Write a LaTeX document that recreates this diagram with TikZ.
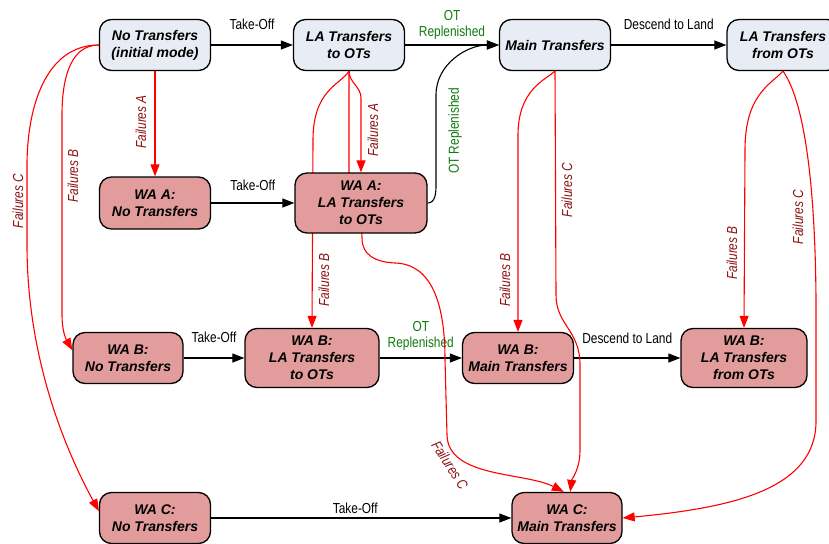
\documentclass[tikz,border=0pt]{standalone}
\usepackage{fontspec}
\setmainfont{Liberation Sans}
\newfontfamily\narrowsans[FakeStretch=0.82]{Liberation Sans}
\usetikzlibrary{arrows.meta,backgrounds}
\definecolor{modefill}{HTML}{E8ECF5}
\definecolor{wafill}{HTML}{E29C9C}
\definecolor{faildark}{HTML}{8B1010}
\definecolor{otgreen}{HTML}{107A10}

\begin{document}
\begin{tikzpicture}[x=1pt,y=1pt,
    mode/.style={draw, line width=1.3pt, rounded corners=12pt, fill=modefill,
      inner sep=0pt, align=center, font=\fontsize{14}{17}\selectfont\bfseries\itshape},
    wa/.style={mode, fill=wafill},
    go/.style={-{Triangle[length=12pt,width=9pt]}, line width=1.1pt},
    fail/.style={go, red},
    lbl/.style={align=center, font=\narrowsans\fontsize{14.5}{16}\selectfont},
    flbl/.style={lbl, text=faildark, font=\narrowsans\itshape\fontsize{14.5}{16}\selectfont}]
  \useasboundingbox (0,0) rectangle (829,-543);

  % normal modes
  \node[mode, minimum width=111, minimum height=51] (nt) at (155,-45) {No Transfers\\(initial mode)};
  \node[mode, minimum width=111, minimum height=51] (lat) at (349,-45) {LA Transfers\\to OTs};
  \node[mode, minimum width=111, minimum height=51] (mt) at (555,-45) {Main Transfers};
  \node[mode, minimum width=112, minimum height=51] (laf) at (783,-45) {LA Transfers\\from OTs};

  % work-around modes
  \node[wa, minimum width=111, minimum height=52] (an) at (155,-203) {WA A:\\No Transfers};
  \node[wa, minimum width=132, minimum height=60] (alat) at (361,-203) {WA A:\\LA Transfers\\to OTs};
  \node[wa, minimum width=110, minimum height=51] (bn) at (128,-358) {WA B:\\No Transfers};
  \node[wa, minimum width=134, minimum height=59] (blat) at (312,-358) {WA B:\\LA Transfers\\to OTs};
  \node[wa, minimum width=111, minimum height=51] (bmt) at (518,-358) {WA B:\\Main Transfers};
  \node[wa, minimum width=126, minimum height=59] (blaf) at (744,-358) {WA B:\\LA Transfers\\from OTs};
  \node[wa, minimum width=111, minimum height=51] (cn) at (155,-518) {WA C:\\No Transfers};
  \node[wa, minimum width=110, minimum height=51] (cmt) at (567,-518) {WA C:\\Main Transfers};

  \begin{scope}[on background layer]
    % mission phases
    \draw[go] (nt) -- node[lbl, yshift=21pt] {Take-Off} (lat);
    \draw[go] (lat) -- node[lbl, text=otgreen, yshift=20pt] {OT\\Replenished} (mt);
    \draw[go] (mt) -- node[lbl, yshift=21pt] {Descend to Land} (laf);
    \draw[go] (an) -- node[lbl, yshift=18pt] {Take-Off} (alat);
    \draw[go] (alat.east) to[out=0,in=-90] (436,-185) -- (436,-95) to[out=90,in=180] (mt.west)
      node[lbl, text=otgreen, rotate=90] at (455,-131) {OT Replenished};
    \draw[go] (bn) -- node[lbl, yshift=21pt] {Take-Off} (blat);
    \draw[go] (blat) -- node[lbl, text=otgreen, yshift=22pt] {OT\\Replenished} (bmt);
    \draw[go] (bmt) -- node[lbl, yshift=20pt] {Descend to Land} (blaf);
    \draw[go] (cn) -- node[lbl, pos=.48, yshift=10pt] {Take-Off} (cmt);

    % failures
    \draw[fail] (nt) -- (an) node[flbl, rotate=90] at (141,-122) {Failures A};
    \draw[fail] (nt.west) to[out=180,in=90] (62,-115) -- (62,-315) to[out=-90,in=120] (bn.172)
      node[flbl, rotate=90] at (73,-176) {Failures B};
    \draw[fail] (nt.west) to[out=180,in=90] (27,-165) -- (27,-245)
      .. controls (27,-350) and (60,-440) .. (cn.173)
      node[flbl, rotate=90] at (18,-201) {Failures C};

    \draw[fail] (lat.south) to[out=-90,in=90] (361,-98) -- (alat.north)
      node[flbl, rotate=90] at (373,-130) {Failures A};
    \draw[fail] (lat.south) .. controls (340,-85) and (313,-90) .. (313,-140) -- (blat.north)
      node[flbl, rotate=90] at (324,-280) {Failures B};
    \draw[fail] (lat.south) -- (349,-175) .. controls (349,-205) and (362,-215) .. (362,-238)
      .. controls (362,-255) and (375,-262) .. (395,-263)
      .. controls (430,-264) and (445,-300) .. (445,-360) -- (447,-435)
      .. controls (448,-478) and (525,-472) .. (cmt.97)
      node[flbl, rotate=-57] at (450,-465) {Failures C};

    \draw[fail] (mt.south) .. controls (545,-80) and (518,-90) .. (518,-135) -- (bmt.north)
      node[flbl, rotate=90] at (505,-280) {Failures B};
    \draw[fail] (mt.south) -- (556,-295) .. controls (556,-325) and (580,-330) .. (580,-365)
      -- (580,-450) .. controls (580,-470) and (572,-478) .. (cmt.83)
      node[flbl, rotate=90] at (567,-190) {Failures C};

    \draw[fail] (laf.south) .. controls (770,-85) and (745,-95) .. (745,-150) -- (blaf.north)
      node[flbl, rotate=90] at (732,-253) {Failures B};
    \draw[fail] (laf.south) .. controls (800,-95) and (815,-160) .. (816,-300) -- (816,-420)
      .. controls (817,-490) and (730,-508) .. (cmt.east)
      node[flbl, rotate=90] at (798,-217) {Failures C};
  \end{scope}
\end{tikzpicture}
\end{document}
